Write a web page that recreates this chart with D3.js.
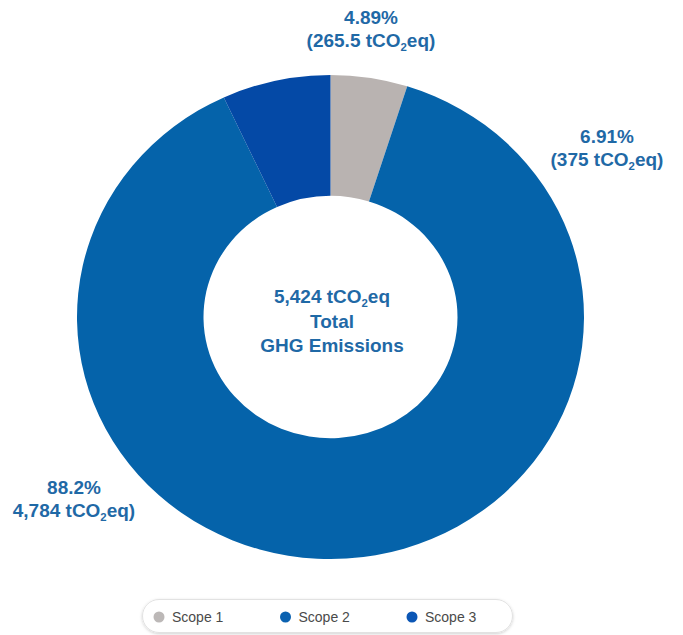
<!DOCTYPE html>
<html>
<head>
<meta charset="utf-8">
<script src="https://cdn.jsdelivr.net/npm/d3@7"></script>
<style>
  html, body { margin: 0; padding: 0; background: #fff; }
  svg { display: block; }
  text { font-family: "Liberation Sans", Arial, sans-serif; }
</style>
</head>
<body>
<svg id="chart" width="683" height="635"></svg>
<script>
// data
var categories = ['Scope 1', 'Scope 2', 'Scope 3'];
var emissions = [265.5, 4784, 375];
var shares = ['4.89%', '88.2%', '6.91%'];
var amounts = ['265.5', '4,784', '375'];
var amountPrefix = ['(', '', '('];
var colors = ['#b9b3b1', '#0563aa', '#0449a6'];
var legendColors = ['#bcb8b7', '#0b62b0', '#0b56b5'];
var totalText = '5,424';
var centerLines = ['Total', 'GHG Emissions'];

var width = 683, height = 635;
var sy = 0.955;              // the original picture is squeezed a bit vertically
var cx = 330.5, cy = 317;
var outerR = 253.5, innerR = 127;
var textColor = '#1f69a6';

// where each slice label sits (center x, baseline of first line)
var labelSpots = [[371, 24], [74, 494], [607, 143]];
var lineGap = 23;

var svg = d3.select('#chart');
var root = svg.append('g').attr('transform', 'scale(1,' + sy + ')');

var pie = d3.pie().sort(null).value(function(d) { return d; });
var arc = d3.arc().innerRadius(innerR).outerRadius(outerR);

var pieG = root.append('g')
  .attr('transform', 'translate(' + cx + ',' + (cy / sy) + ')');

pieG.selectAll('path')
  .data(pie(emissions))
  .enter()
  .append('path')
    .attr('d', arc)
    .attr('fill', function(d, i) { return colors[i]; });

// "tCO2eq" with a small lowered 2
function addUnit(text) {
  text.append('tspan').text(' tCO');
  text.append('tspan').attr('font-size', '0.6em').attr('dy', 4).text('2');
  text.append('tspan').attr('dy', -4).text('eq');
}

function label(x, y) {
  return root.append('text')
    .attr('x', x)
    .attr('y', y / sy)
    .attr('text-anchor', 'middle')
    .attr('font-size', 19)
    .attr('font-weight', 'bold')
    .attr('fill', textColor);
}

categories.forEach(function(c, i) {
  var p = labelSpots[i];
  label(p[0], p[1]).text(shares[i]);
  var t = label(p[0], p[1] + lineGap);
  t.append('tspan').text(amountPrefix[i] + amounts[i]);
  addUnit(t);
  t.append('tspan').text(')');
});

// center text
var t0 = label(332, 303);
t0.append('tspan').text(totalText);
addUnit(t0);
centerLines.forEach(function(s, i) {
  label(332, 328 + i * 24.5).text(s);
});

// legend
var defs = svg.append('defs');
var f = defs.append('filter').attr('id', 'shadow')
  .attr('x', '-10%').attr('y', '-30%').attr('width', '120%').attr('height', '160%');
f.append('feDropShadow')
  .attr('dx', 0).attr('dy', 1).attr('stdDeviation', 1.5)
  .attr('flood-color', '#000').attr('flood-opacity', 0.18);

var legend = svg.append('g');
legend.append('rect')
  .attr('x', 142.5).attr('y', 599.5)
  .attr('width', 370).attr('height', 33)
  .attr('rx', 16.5).attr('ry', 16.5)
  .attr('fill', '#fff')
  .attr('stroke', '#e2e2e2')
  .attr('filter', 'url(#shadow)');

var legendX = d3.scalePoint().domain(categories).range([159, 412]);

var items = legend.selectAll('g.item')
  .data(categories)
  .enter()
  .append('g')
    .attr('class', 'item')
    .attr('transform', function(d) { return 'translate(' + legendX(d) + ',617)'; });

items.append('circle')
  .attr('r', 5.5)
  .attr('fill', function(d, i) { return legendColors[i]; });

items.append('text')
  .attr('x', 13)
  .attr('y', 5)
  .attr('font-size', 14)
  .attr('fill', '#4a4a4a')
  .text(function(d) { return d; });
</script>
</body>
</html>
